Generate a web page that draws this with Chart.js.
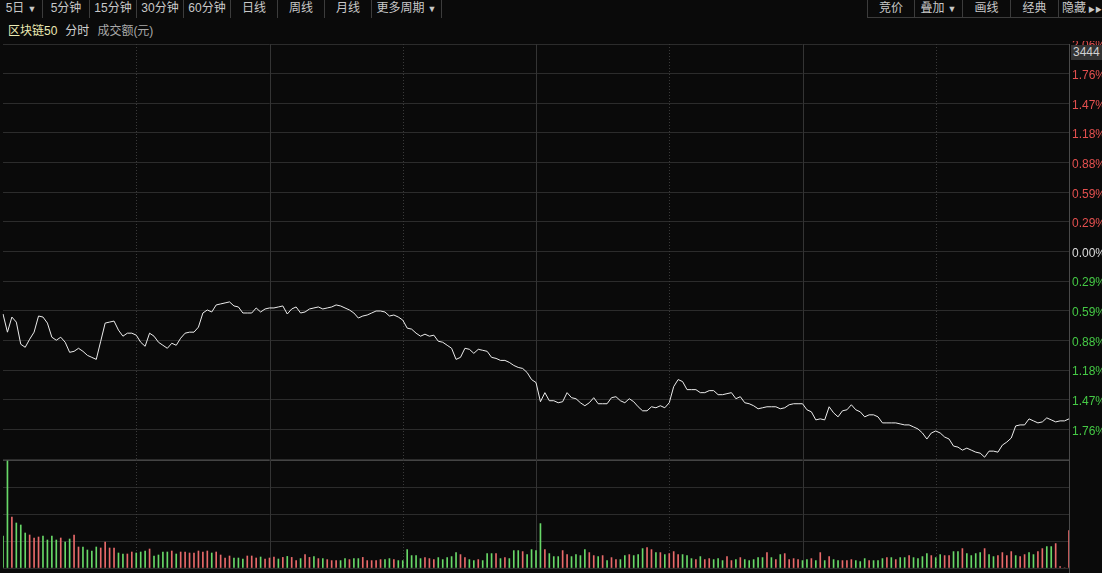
<!DOCTYPE html>
<html>
<head>
<meta charset="utf-8">
<title>区块链50 分时</title>
<script src="https://cdn.jsdelivr.net/npm/chart.js@4.4.0/dist/chart.umd.min.js"></script>
<style>
  body {
    margin: 0;
    width: 1102px;
    height: 573px;
    overflow: hidden;
    position: relative;
    background: #0a0a0a;
    font-family: "Liberation Sans", "Noto Sans CJK SC", sans-serif;
  }
  .btn {
    position: absolute;
    top: 0;
    height: 18px;
    line-height: 17px;
    font-size: 12px;
    color: #c8c8c8;
    text-align: center;
    box-sizing: border-box;
    white-space: nowrap;
    overflow: hidden;
    z-index: 3;
  }
  .left-btn { border-right: 1px solid #3c3c3c; }
  .right-btn { border-left: 1px solid #3c3c3c; border-bottom: 1px solid #3c3c3c; }
  .tri { font-size: 9px; margin-left: 3px; }
  #title {
    position: absolute;
    top: 18px;
    left: 0;
    width: 1102px;
    height: 23px;
    line-height: 27px;
    font-size: 12px;
    background: #0a0a0a;
    z-index: 2;
  }
  #title span { margin-left: 8px; }
  #mainChart { position: absolute; left: 0; top: 37px; }
  #volChart { position: absolute; left: 0; top: 460px; }
  #priceBox {
    position: absolute;
    left: 1071px;
    top: 45px;
    width: 31px;
    height: 15px;
    line-height: 15px;
    background: #333;
    color: #d0d0d0;
    font-size: 12px;
    padding-left: 2px;
    overflow: hidden;
    z-index: 3;
  }
</style>
</head>
<body>

<div class="btn left-btn" style="left:0;width:43px">5日<span class="tri">▼</span></div>
<div class="btn left-btn" style="left:43px;width:47px">5分钟</div>
<div class="btn left-btn" style="left:90px;width:47px">15分钟</div>
<div class="btn left-btn" style="left:137px;width:47px">30分钟</div>
<div class="btn left-btn" style="left:184px;width:47px">60分钟</div>
<div class="btn left-btn" style="left:231px;width:47px">日线</div>
<div class="btn left-btn" style="left:278px;width:47px">周线</div>
<div class="btn left-btn" style="left:325px;width:47px">月线</div>
<div class="btn left-btn" style="left:372px;width:70px">更多周期<span class="tri">▼</span></div>

<div class="btn right-btn" style="left:867px;width:47px">竞价</div>
<div class="btn right-btn" style="left:914px;width:48px">叠加<span class="tri">▼</span></div>
<div class="btn right-btn" style="left:962px;width:48px">画线</div>
<div class="btn right-btn" style="left:1010px;width:48px">经典</div>
<div class="btn right-btn" style="left:1058px;width:44px;text-align:left;padding-left:3px">隐藏<span class="tri" style="font-size:7px;margin-left:2px">▶▶</span></div>

<div id="title"><span style="color:#ecebb4">区块链50</span><span style="color:#d0d0d0">分时</span><span style="color:#a8a8a8">成交额(元)</span></div>

<canvas id="mainChart" width="1102" height="423"></canvas>
<canvas id="volChart" width="1102" height="113"></canvas>
<div id="priceBox">3444</div>

<script>
'use strict';

const dayNames = ['D1', 'D2', 'D3', 'D4'];

// % change vs previous close, one point every 4 minutes
const day1Pct = [
  -0.62, -0.80, -0.65, -0.70, -0.92, -0.95, -0.87, -0.80, -0.64, -0.65,
  -0.71, -0.85, -0.88, -0.85, -0.90, -1.00, -0.99, -0.96, -0.99, -1.03,
  -1.05, -1.07, -0.89, -0.71, -0.70, -0.69, -0.78, -0.84, -0.81, -0.81,
  -0.83, -0.90, -0.94, -0.81, -0.84, -0.90, -0.93, -0.96, -0.91, -0.93,
  -0.86, -0.81, -0.80, -0.80, -0.75, -0.61, -0.58, -0.60, -0.53, -0.52,
  -0.51, -0.50, -0.54, -0.55, -0.61, -0.61, -0.61, -0.56, -0.60, -0.57
];
const day2Pct = [
  -0.56, -0.56, -0.55, -0.54, -0.62, -0.57, -0.55, -0.61, -0.60, -0.57,
  -0.56, -0.55, -0.57, -0.56, -0.55, -0.53, -0.54, -0.56, -0.58, -0.61,
  -0.66, -0.64, -0.63, -0.61, -0.59, -0.59, -0.60, -0.64, -0.63, -0.65,
  -0.68, -0.76, -0.77, -0.81, -0.84, -0.82, -0.84, -0.83, -0.89, -0.90,
  -0.93, -0.96, -1.07, -1.05, -0.96, -0.97, -1.01, -0.97, -0.98, -0.99,
  -1.05, -1.06, -1.08, -1.08, -1.10, -1.13, -1.15, -1.16, -1.20, -1.27
];
const day3Pct = [
  -1.30, -1.49, -1.40, -1.48, -1.48, -1.50, -1.49, -1.40, -1.45, -1.46,
  -1.50, -1.53, -1.50, -1.45, -1.51, -1.51, -1.51, -1.45, -1.44, -1.48,
  -1.50, -1.46, -1.49, -1.54, -1.58, -1.58, -1.54, -1.55, -1.53, -1.55,
  -1.50, -1.34, -1.27, -1.29, -1.37, -1.37, -1.37, -1.40, -1.40, -1.38,
  -1.38, -1.42, -1.42, -1.41, -1.40, -1.46, -1.44, -1.50, -1.51, -1.53,
  -1.56, -1.55, -1.54, -1.54, -1.54, -1.56, -1.55, -1.52, -1.51, -1.51
];
const day4Pct = [
  -1.51, -1.57, -1.59, -1.67, -1.66, -1.67, -1.54, -1.60, -1.64, -1.58,
  -1.57, -1.52, -1.57, -1.59, -1.64, -1.62, -1.62, -1.64, -1.70, -1.70,
  -1.70, -1.70, -1.71, -1.72, -1.72, -1.74, -1.76, -1.80, -1.86, -1.80,
  -1.78, -1.80, -1.84, -1.86, -1.93, -1.94, -1.97, -1.95, -1.97, -1.99,
  -2.00, -2.04, -1.98, -1.98, -1.99, -1.92, -1.89, -1.85, -1.73, -1.72,
  -1.72, -1.66, -1.68, -1.70, -1.69, -1.65, -1.67, -1.69, -1.68, -1.68,
  -1.66
];

// turnover per bar (relative units)
const day1Vol = [
  160, 535, 255, 225, 215, 175, 165, 150, 155, 160,
  140, 160, 140, 150, 130, 145, 165, 105, 105, 90,
  85, 105, 100, 130, 100, 100, 75, 70, 70, 80,
  75, 80, 85, 95, 60, 65, 80, 80, 85, 70,
  80, 80, 75, 75, 85, 80, 85, 75, 80, 65,
  50, 60, 50, 50, 45, 60, 60, 50, 55, 45
];
const day2Vol = [
  50, 55, 45, 53, 58, 53, 37, 47, 67, 53,
  57, 47, 47, 42, 37, 37, 37, 47, 42, 47,
  47, 53, 37, 37, 37, 42, 42, 47, 42, 37,
  37, 92, 62, 62, 47, 52, 47, 42, 52, 42,
  52, 57, 77, 67, 52, 42, 37, 42, 37, 72,
  72, 72, 47, 52, 47, 87, 87, 82, 67, 92
];
const day3Vol = [
  87, 222, 92, 72, 57, 57, 87, 67, 57, 67,
  62, 92, 77, 62, 57, 62, 37, 52, 42, 42,
  62, 67, 62, 67, 97, 102, 92, 77, 77, 67,
  72, 82, 67, 67, 62, 47, 42, 57, 42, 47,
  42, 47, 37, 57, 37, 42, 52, 42, 37, 42,
  52, 52, 77, 52, 42, 67, 72, 42, 47, 42
];
const day4Vol = [
  37, 42, 47, 37, 77, 37, 57, 42, 37, 37,
  37, 42, 37, 32, 47, 37, 37, 37, 47, 52,
  52, 42, 52, 52, 62, 52, 47, 57, 72, 62,
  52, 67, 62, 62, 82, 82, 97, 72, 62, 72,
  77, 97, 67, 57, 62, 77, 62, 82, 62, 57,
  67, 77, 67, 82, 97, 107, 107, 122, 7, 0,
  187
];

// R = price up on that bar, G = down
const day1Dir = 'GGRGGGRRRG' + 'GGGRGGRRGG' + 'GGRRRRGGRR' + 'GGGRGGGGRG' + 'RRRRRRRGRR' + 'RRGGGRRRGR';
const day2Dir = 'RRGRGRRGRR' + 'GRGRRRGGRG' + 'GRRRRRGGRG' + 'GGGGGRRRGG' + 'GGGRRGGRGG' + 'GRGRGGGRGG';
const day3Dir = 'GGRGGGRRGG' + 'GGRRGRGRRG' + 'GRGGGRRGRG' + 'RRRGGGRGRR' + 'GGGRRGRGGG' + 'GGRGRGRRRR';
const day4Dir = 'GGRGRGRGGR' + 'RRGGGRGGGR' + 'GRGGRGGGGR' + 'GGRRGGRGGG' + 'GRGGRRRRGR' + 'RGGRRGGRRR' + 'R';

// right axis: step of the percent grid and its labels from 0 upward
const pctStep = 0.294;
const pctTickLabels = ['0.00%', '0.29%', '0.59%', '0.88%', '1.18%', '1.47%', '1.76%', '2.06%'];
const volMax = 540;
const volTicks = [0, 135, 270, 405, 540];

const upColor = '#e4504f';
const downColor = '#45c945';
const upBar = '#e86a6a';
const downBar = '#68d868';

const dayPct = [day1Pct, day2Pct, day3Pct, day4Pct];
const allPct = [].concat(...dayPct);
const allVol = [].concat(day1Vol, day2Vol, day3Vol, day4Vol);
const allDir = (day1Dir + day2Dir + day3Dir + day4Dir).split('');

let labels = [];
let dayStarts = [];
let middays = [];
dayPct.forEach((arr, d) => {
  if (d > 0) dayStarts.push(labels.length);
  middays.push(labels.length + 30);
  arr.forEach((v, s) => labels.push(dayNames[d] + '-' + s));
});

const pctTickValues = [];
for (let i = -7; i <= 7; i++) pctTickValues.push(i * pctStep);

Chart.defaults.animation = false;
Chart.defaults.font.family = '"Liberation Sans", "Noto Sans CJK SC", sans-serif';

// day separators, midday dotted lines and right border
const sessionLines = {
  id: 'sessionLines',
  beforeDatasetsDraw(chart) {
    const {ctx, chartArea, scales} = chart;
    ctx.save();
    ctx.lineWidth = 1;
    ctx.strokeStyle = '#343434';
    dayStarts.forEach(k => {
      let x = Math.round(scales.x.getPixelForValue(k)) + 0.5;
      ctx.beginPath();
      ctx.moveTo(x, chartArea.top);
      ctx.lineTo(x, chartArea.bottom);
      ctx.stroke();
    });
    ctx.strokeStyle = '#3a3a3a';
    ctx.setLineDash([1, 2]);
    middays.forEach(k => {
      let x = Math.round(scales.x.getPixelForValue(k)) + 0.5;
      ctx.beginPath();
      ctx.moveTo(x, chartArea.top);
      ctx.lineTo(x, chartArea.bottom);
      ctx.stroke();
    });
    ctx.setLineDash([]);
    ctx.strokeStyle = '#4a4a4a';
    let xr = Math.round(chartArea.right) + 0.5;
    ctx.beginPath();
    ctx.moveTo(xr, chartArea.top);
    ctx.lineTo(xr, chart.height);
    ctx.stroke();
    ctx.restore();
  }
};

const xAxis = {
  type: 'category',
  offset: false,
  display: false,
  grid: { display: false, offset: false }
};

new Chart(document.getElementById('mainChart'), {
  type: 'line',
  data: {
    labels: labels,
    datasets: [{
      data: allPct,
      borderColor: '#ececec',
      borderWidth: 1,
      pointRadius: 0,
      tension: 0,
      fill: false
    }]
  },
  options: {
    responsive: false,
    layout: { padding: { top: 7, bottom: 1, left: 3, right: 0 } },
    plugins: { legend: { display: false }, tooltip: { enabled: false } },
    scales: {
      x: xAxis,
      y: {
        position: 'right',
        min: -7 * pctStep,
        max: 7 * pctStep,
        afterBuildTicks: axis => { axis.ticks = pctTickValues.map(v => ({ value: v })); },
        afterFit: axis => { axis.width = 33; axis.paddingTop = 0; axis.paddingBottom = 0; },
        border: { display: false },
        grid: { color: '#2c2c2c', drawTicks: false },
        ticks: {
          padding: 3,
          labelOffset: 2,
          font: { size: 12 },
          color: c => c.tick.value > 0.001 ? upColor : (c.tick.value < -0.001 ? downColor : '#dcdcdc'),
          callback: (value, index) => {
            let step = Math.round(value / pctStep);
            if (step === -7) return '';
            return pctTickLabels[Math.abs(step)];
          }
        }
      }
    }
  },
  plugins: [sessionLines]
});

new Chart(document.getElementById('volChart'), {
  type: 'bar',
  data: {
    labels: labels,
    datasets: [{
      data: allVol,
      backgroundColor: allDir.map(d => d === 'R' ? upBar : downBar),
      barThickness: 1,
      borderWidth: 0
    }]
  },
  options: {
    responsive: false,
    layout: { padding: { top: 0, bottom: 5, left: 3, right: 0 } },
    plugins: { legend: { display: false }, tooltip: { enabled: false } },
    scales: {
      x: xAxis,
      y: {
        position: 'right',
        min: 0,
        max: volMax,
        afterBuildTicks: axis => { axis.ticks = volTicks.map(v => ({ value: v })); },
        afterFit: axis => { axis.width = 33; axis.paddingTop = 0; axis.paddingBottom = 0; },
        border: { display: false },
        grid: { color: c => c.tick && c.tick.value === volMax ? '#444' : '#2c2c2c', drawTicks: false },
        ticks: { display: false }
      }
    }
  },
  plugins: [sessionLines]
});
</script>
</body>
</html>
